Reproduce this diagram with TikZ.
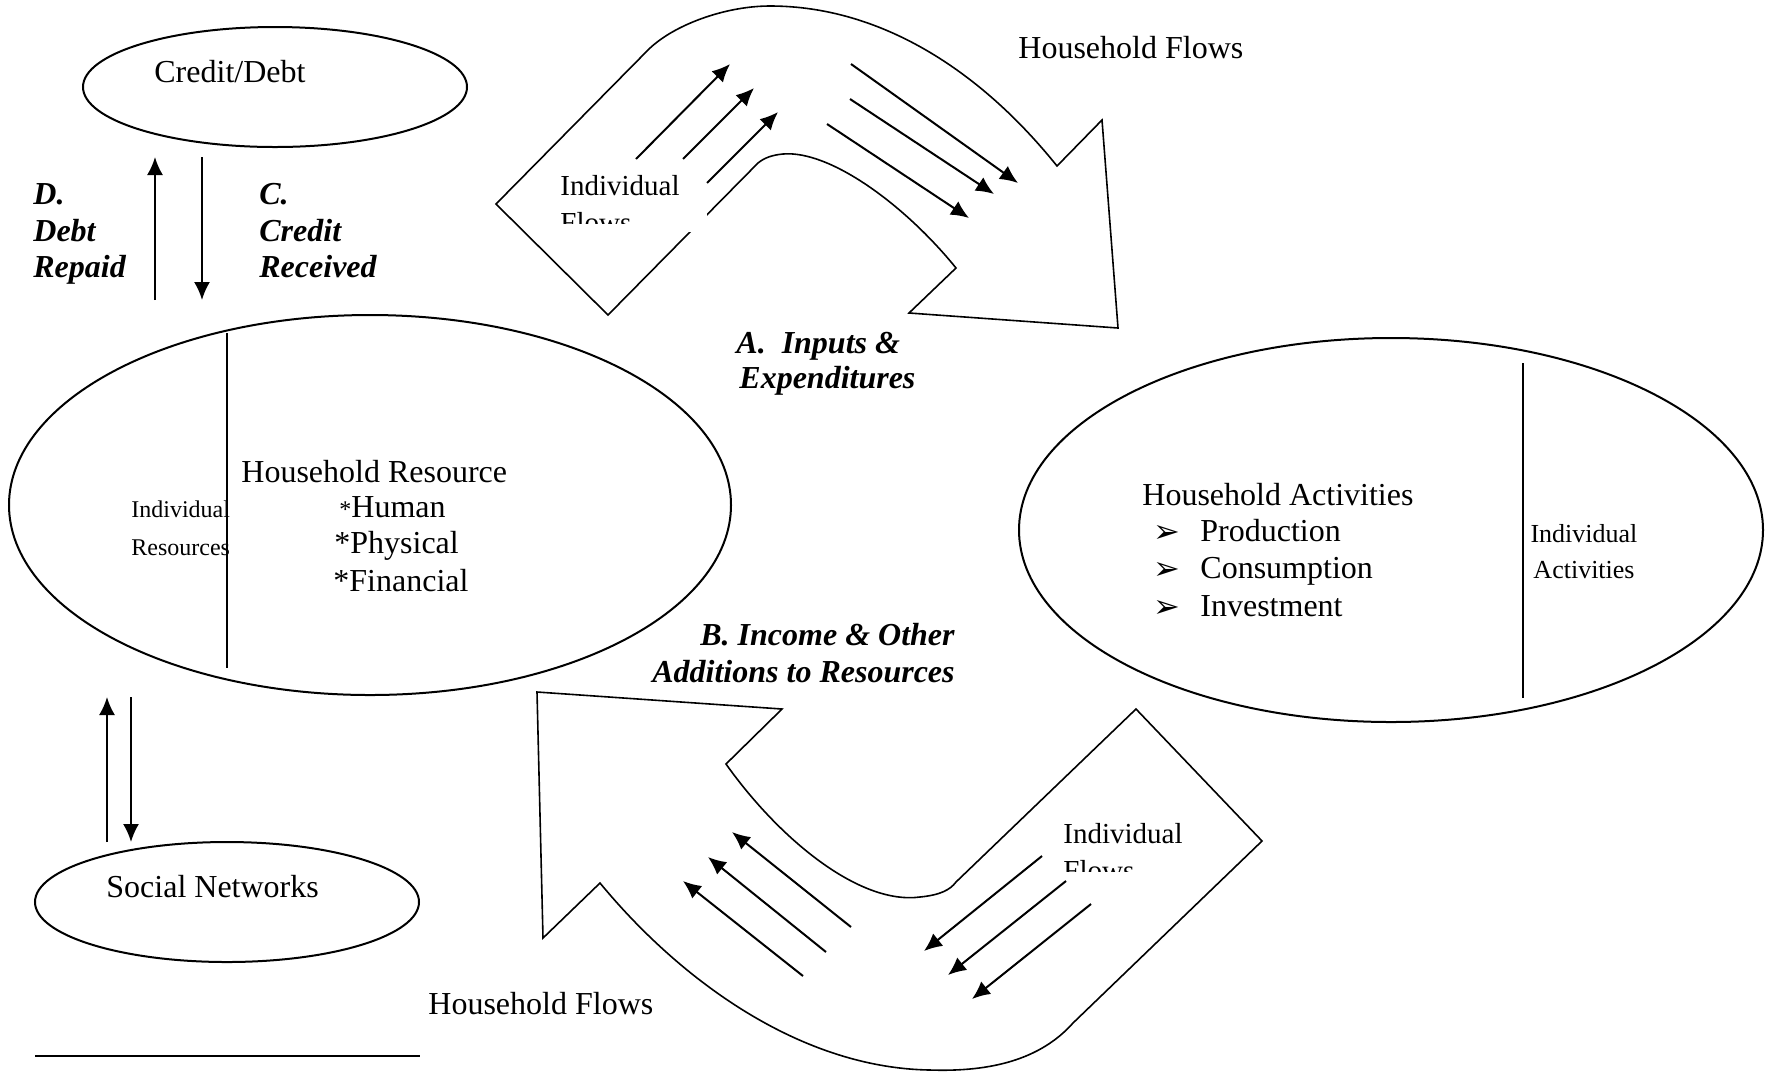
\documentclass[tikz,border=0pt]{standalone}
\usepackage{fontspec}
\setmainfont{Liberation Serif}
\newfontfamily\djv{DejaVu Sans}
\usetikzlibrary{shapes.geometric,arrows.meta}
\begin{document}
\begin{tikzpicture}[x=0.5pt,y=-0.5pt,
  txt/.style={inner sep=0pt, anchor=base west, font=\fontsize{16}{19}\selectfont},
  lbl/.style={inner sep=0pt, anchor=base west, font=\fontsize{16}{19}\selectfont\bfseries\itshape},
  lblr/.style={inner sep=0pt, anchor=base east, font=\fontsize{16}{19}\selectfont\bfseries\itshape},
  indiv/.style={inner sep=0pt, anchor=base west, font=\fontsize{14.5}{17}\selectfont},
  oval/.style={draw, ellipse, line width=1pt, inner sep=0pt},
  outline/.style={line width=0.8pt, line join=miter},
  divider/.style={line width=0.8pt},
  flow/.style={line width=1pt, -{Latex[length=9pt,width=8pt]}},
  bul/.style={inner sep=0pt, anchor=base west, font=\djv\fontsize{16}{18}\selectfont}]
\fill[white] (0,0) rectangle (1765,1073);
\useasboundingbox (0,0) rectangle (1765,1073);

% ---------- ellipses ----------
\node[oval, minimum width=192pt, minimum height=60pt] (credit) at (275,87) {};
\node[oval, minimum width=361pt, minimum height=190pt] (res) at (370,505) {};
\node[oval, minimum width=372pt, minimum height=192pt] (act) at (1391,530) {};
\node[oval, minimum width=192pt, minimum height=60pt] (soc) at (227,902) {};

% dividers
\draw[divider] (227,333) -- (227,668);
\draw[divider] (1523,363) -- (1523,698);

% ---------- texts in ellipses ----------
\node[txt] (tcredit) at (154,82) {Credit/Debt};
\node[txt] (tres) at (241,482) {Household Resource};
\node[txt] (thuman) at (339,517) {{\fontsize{12}{14}\selectfont *}Human};
\node[txt] (tphys) at (334,553) {*Physical};
\node[txt] (tfin) at (333,591) {*Financial};
\node[inner sep=0pt, anchor=base west, font=\fontsize{12}{14}\selectfont] (tir1) at (131,517) {Individual};
\node[inner sep=0pt, anchor=base west, font=\fontsize{12}{14}\selectfont] (tir2) at (131,555) {Resources};

\node[txt] (tact) at (1142,505) {Household Activities};
\node[bul] (b1) at (1153,542) {➢};
\node[bul] (b2) at (1153,579) {➢};
\node[bul] (b3) at (1153,617) {➢};
\node[txt] (tprod) at (1200,541) {Production};
\node[txt] (tcons) at (1200,578) {Consumption};
\node[txt] (tinv) at (1200,616) {Investment};
\node[inner sep=0pt, anchor=base, font=\fontsize{13}{15}\selectfont] (tia1) at (1584,542) {Individual};
\node[inner sep=0pt, anchor=base, font=\fontsize{13}{15}\selectfont] (tia2) at (1584,578) {Activities};

\node[txt] (tsoc) at (106,897) {Social Networks};

% ---------- credit / social arrows ----------
\coordinate (cu0) at (155,300); \coordinate (cu1) at (155,157);
\coordinate (cd0) at (202,157); \coordinate (cd1) at (202,300);
\draw[flow] (cu0) -- (cu1);
\draw[flow] (cd0) -- (cd1);
\coordinate (su0) at (107,842); \coordinate (su1) at (107,697);
\coordinate (sd0) at (131,697); \coordinate (sd1) at (131,842);
\draw[flow] (su0) -- (su1);
\draw[flow] (sd0) -- (sd1);

\node[lbl] (d1) at (33,204) {D.};
\node[lbl] (d2) at (33,241) {Debt};
\node[lbl] (d3) at (33,277) {Repaid};
\node[lbl] (c1) at (259,204) {C.};
\node[lbl] (c2) at (259,241) {Credit};
\node[lbl] (c3) at (259,277) {Received};

% ---------- top curved arrow ----------
\draw[outline] (496,204) -- (648,50)
  .. controls (673,25) and (725,6) .. (770,6)
  .. controls (880,6) and (980,70) .. (1057,166)
  -- (1102,120) -- (1118,328) -- (909,313) -- (956,268)
  .. controls (905,205) and (830,150) .. (783,154)
  .. controls (772,155) and (764,158) .. (758,163)
  -- (608,315) -- cycle;
\fill[white] (550,159) rectangle (707,232);
\begin{scope}
  \clip (545,150) rectangle (707,223);
  \node[indiv] (tif1) at (560,195) {Individual};
  \node[indiv] (tif2) at (560,232) {Flows};
\end{scope}
\coordinate (ta1) at (636,159); \coordinate (ta1e) at (730,64);
\coordinate (ta2) at (683,159); \coordinate (ta2e) at (754,88);
\coordinate (ta3) at (707,183); \coordinate (ta3e) at (778,112);
\coordinate (tb1) at (851,64);  \coordinate (tb1e) at (1018,183);
\coordinate (tb2) at (850,99);  \coordinate (tb2e) at (994,194);
\coordinate (tb3) at (827,124); \coordinate (tb3e) at (969,218);
\draw[flow] (ta1) -- (ta1e);
\draw[flow] (ta2) -- (ta2e);
\draw[flow] (ta3) -- (ta3e);
\draw[flow] (tb1) -- (tb1e);
\draw[flow] (tb2) -- (tb2e);
\draw[flow] (tb3) -- (tb3e);
\node[txt] (thf1) at (1018,58) {Household Flows};
\node[lbl] (ta) at (736,353) {A.\ \ Inputs \&};
\node[lbl] (tae) at (739,388) {Expenditures};

% ---------- bottom curved arrow ----------
\draw[outline] (537,692) -- (782,709) -- (726,764)
  .. controls (780,840) and (860,905) .. (920,897)
  .. controls (940,895) and (950,890) .. (956,882)
  -- (1136,709) -- (1262,841) -- (1073,1023)
  .. controls (1040,1060) and (990,1072) .. (930,1070)
  .. controls (800,1068) and (680,980) .. (600,883)
  -- (543,938) -- cycle;
\begin{scope}
  \clip (1050,800) rectangle (1200,871);
  \node[indiv] (tbf1) at (1063,843) {Individual};
  \node[indiv] (tbf2) at (1063,880) {Flows};
\end{scope}
\coordinate (ba1) at (1042,856); \coordinate (ba1e) at (924,951);
\coordinate (ba2) at (1066,881); \coordinate (ba2e) at (948,975);
\coordinate (ba3) at (1091,904); \coordinate (ba3e) at (972,999);
\coordinate (bb1) at (851,927);  \coordinate (bb1e) at (732,832);
\coordinate (bb2) at (826,952);  \coordinate (bb2e) at (708,857);
\coordinate (bb3) at (803,976);  \coordinate (bb3e) at (683,881);
\draw[flow] (ba1) -- (ba1e);
\draw[flow] (ba2) -- (ba2e);
\draw[flow] (ba3) -- (ba3e);
\draw[flow] (bb1) -- (bb1e);
\draw[flow] (bb2) -- (bb2e);
\draw[flow] (bb3) -- (bb3e);
\node[lblr] (tb) at (955,645) {B. Income \& Other};
\node[lblr] (tbe) at (955,682) {Additions to Resources};
\node[txt] (thf2) at (428,1014) {Household Flows};

% footnote rule
\draw[line width=1pt] (35,1056) -- (420,1056);
\end{tikzpicture}
\end{document}
